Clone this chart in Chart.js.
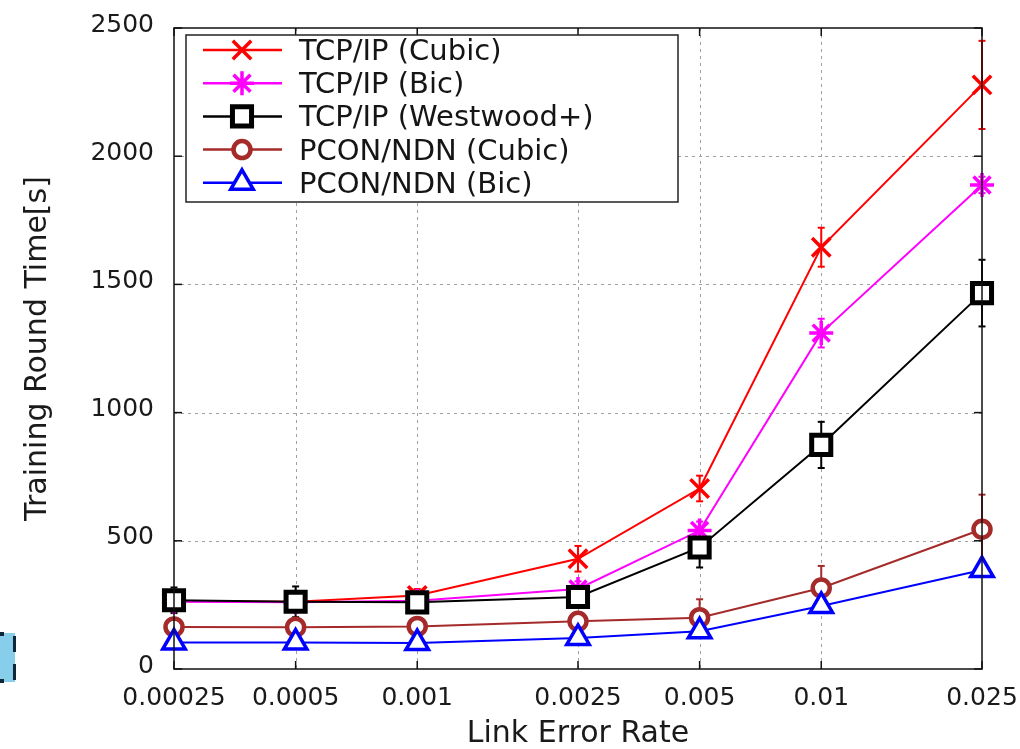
<!DOCTYPE html>
<html><head><meta charset="utf-8">
<script src="https://cdn.jsdelivr.net/npm/chart.js@4.4.1/dist/chart.umd.min.js"></script>
<style>
html,body{margin:0;padding:0;background:#fff;overflow:hidden}
#wrap{position:relative;width:1020px;height:749px}
#c{position:absolute;left:0;top:0}
.art{position:absolute}
</style></head><body>
<div id="wrap"><canvas id="c" width="1020" height="749"></canvas>
<div class="art" style="left:0;top:633px;width:15px;height:49px;background:#87ceeb"></div>
<div class="art" style="left:0;top:632px;width:4px;height:4px;background:#10273a"></div>
<div class="art" style="left:0;top:679px;width:4px;height:4px;background:#10273a"></div>
<div class="art" style="left:13px;top:636px;width:3px;height:16px;background:#10273a"></div>
<div class="art" style="left:13px;top:664px;width:3px;height:16px;background:#10273a"></div>
</div>
<script>
// ---- data ----
const errorRates = [0.00025, 0.0005, 0.001, 0.0025, 0.005, 0.01, 0.025];
const xTickLabels = ['0.00025', '0.0005', '0.001', '0.0025', '0.005', '0.01', '0.025'];
const yTickValues = [0, 500, 1000, 1500, 2000, 2500];
const seriesNames = ['TCP/IP (Cubic)', 'TCP/IP (Bic)', 'TCP/IP (Westwood+)', 'PCON/NDN (Cubic)', 'PCON/NDN (Bic)'];
const tcpCubic     = [265, 262, 287, 430, 704, 1645, 2278];
const tcpBic       = [262, 260, 266, 312, 540, 1310, 1888];
const tcpWestwood  = [268, 262, 260, 281, 474, 874, 1466];
const pconCubic    = [164, 163, 166, 186, 200, 316, 545];
const pconBic      = [103, 103, 101, 121, 147, 246, 386];
const errTcpCubic    = [15, 15, 25, 50, 50, 76, 172];
const errTcpBic      = [15, 15, 15, 30, 35, 56, 32];
const errTcpWestwood = [50, 60, 30, 40, 78, 90, 130];
const errPconCubic   = [20, 20, 20, 22, 72, 86, 135];
const errPconBic     = [10, 10, 10, 12, 20, 16, 16];

const FONT = 'DejaVu Sans';
const mk = (vals) => vals.map((v, i) => ({x: errorRates[i], y: v}));

const styles = [
  {color: '#ff0000', style: 'crossRot', r: 13, bw: 3.5},
  {color: '#ff00ff', style: 'star', r: 12, bw: 3.5},
  {color: '#000000', style: 'rect', r: 13.5, bw: 5},
  {color: '#a52a2a', style: 'circle', r: 8.5, bw: 4.5},
  {color: '#0000ff', style: 'triangle', r: 13, bw: 3.5}
];
const seriesVals = [tcpCubic, tcpBic, tcpWestwood, pconCubic, pconBic];
const seriesErr = [errTcpCubic, errTcpBic, errTcpWestwood, errPconCubic, errPconBic];

const datasets = seriesNames.map((name, i) => ({
  label: name,
  data: mk(seriesVals[i]),
  errors: seriesErr[i],
  borderColor: styles[i].color,
  backgroundColor: styles[i].color,
  borderWidth: 2,
  pointStyle: styles[i].style,
  pointRadius: styles[i].r,
  pointBorderWidth: styles[i].bw,
  pointBorderColor: styles[i].color,
  pointBackgroundColor: '#ffffff',
  tension: 0,
  clip: false,
  order: 5 - i
}));

function seg(ctx, x1, y1, x2, y2) { ctx.beginPath(); ctx.moveTo(x1, y1); ctx.lineTo(x2, y2); ctx.stroke(); }

const decor = {
  id: 'decor',
  beforeDatasetsDraw(chart) {
    const {ctx, chartArea: a, scales: {x, y}} = chart;
    ctx.save();
    ctx.strokeStyle = '#a0a0a0'; ctx.lineWidth = 1; ctx.setLineDash([3, 4]);
    x.ticks.forEach(t => {
      const px = Math.round(x.getPixelForValue(t.value)) + 0.5;
      if (px <= a.left + 2 || px >= a.right - 2) return;
      seg(ctx, px, a.top, px, a.bottom);
    });
    y.ticks.forEach(t => {
      const py = Math.round(y.getPixelForValue(t.value)) + 0.5;
      if (py <= a.top + 2 || py >= a.bottom - 2) return;
      seg(ctx, a.left, py, a.right, py);
    });
    ctx.setLineDash([]);
    chart.data.datasets.forEach(ds => {
      ctx.strokeStyle = ds.borderColor; ctx.lineWidth = 2;
      ds.data.forEach((p, j) => {
        const e = ds.errors[j];
        const px = x.getPixelForValue(p.x);
        const y1 = y.getPixelForValue(p.y + e), y2 = y.getPixelForValue(p.y - e);
        seg(ctx, px, y1, px, y2);
        seg(ctx, px - 3.5, y1, px + 3.5, y1);
        seg(ctx, px - 3.5, y2, px + 3.5, y2);
      });
    });
    ctx.restore();
  },
  afterDatasetsDraw(chart) {
    const {ctx, chartArea: a, scales: {x, y}} = chart;
    ctx.save();
    ctx.strokeStyle = '#111'; ctx.lineWidth = 1.5;
    ctx.strokeRect(a.left, a.top, a.right - a.left, a.bottom - a.top);
    const tl = 8;
    x.ticks.forEach(t => {
      const px = x.getPixelForValue(t.value);
      seg(ctx, px, a.bottom, px, a.bottom - tl);
      seg(ctx, px, a.top, px, a.top + tl);
    });
    y.ticks.forEach(t => {
      const py = y.getPixelForValue(t.value);
      seg(ctx, a.left, py, a.left + tl, py);
      seg(ctx, a.right, py, a.right - tl, py);
    });
    ctx.restore();
  },
  afterDraw(chart) {
    const {ctx} = chart;
    const L = 186, T = 35, R = 678, B = 202;
    ctx.save();
    ctx.fillStyle = '#fff';
    ctx.fillRect(L, T, R - L, B - T);
    ctx.strokeStyle = '#222'; ctx.lineWidth = 1.5;
    ctx.strokeRect(L, T, R - L, B - T);
    chart.data.datasets.forEach((ds, i) => {
      const cy = 50 + 33.2 * i;
      ctx.strokeStyle = ds.borderColor; ctx.lineWidth = 2.5;
      seg(ctx, 203, cy, 282, cy);
      ctx.fillStyle = '#fff';
      ctx.strokeStyle = ds.pointBorderColor;
      ctx.lineWidth = ds.pointBorderWidth;
      Chart.helpers.drawPoint(ctx, {pointStyle: ds.pointStyle, radius: ds.pointRadius, rotation: 0, borderWidth: ds.pointBorderWidth}, 242, cy);
      ctx.fillStyle = '#151515';
      ctx.font = '29px "' + FONT + '"';
      ctx.textBaseline = 'alphabetic'; ctx.textAlign = 'left';
      ctx.fillText(ds.label, 299, cy + 10);
    });
    ctx.restore();
  }
};

new Chart(document.getElementById('c'), {
  type: 'line',
  data: {datasets},
  options: {
    responsive: false,
    animation: false,
    events: [],
    layout: {padding: {top: 28, right: 38, left: 0, bottom: 0}},
    plugins: {legend: {display: false}, tooltip: {enabled: false}},
    scales: {
      x: {
        type: 'logarithmic',
        min: errorRates[0],
        max: errorRates[errorRates.length - 1],
        afterBuildTicks: s => { s.ticks = errorRates.map(v => ({value: v})); },
        afterFit: s => { s.height = 80; s.paddingLeft = 0; s.paddingRight = 0; },
        grid: {display: false, drawTicks: false},
        border: {display: false},
        ticks: {
          autoSkip: false, maxRotation: 0, padding: 14,
          color: '#1a1a1a', font: {family: FONT, size: 25},
          callback: (v) => { const k = errorRates.indexOf(v); return k >= 0 ? xTickLabels[k] : ''; }
        },
        title: {display: true, text: 'Link Error Rate', color: '#1a1a1a',
          font: {family: FONT, size: 30, lineHeight: 1}, padding: {top: 0, bottom: 0}}
      },
      y: {
        type: 'linear',
        min: yTickValues[0],
        max: yTickValues[yTickValues.length - 1],
        afterBuildTicks: s => { s.ticks = yTickValues.map(v => ({value: v})); },
        afterFit: s => { s.width = 174; s.paddingTop = 0; s.paddingBottom = 0; },
        grid: {display: false, drawTicks: false},
        border: {display: false},
        ticks: {padding: 20, labelOffset: -3, color: '#1a1a1a', font: {family: FONT, size: 25},
          callback: (v) => String(v)},
        title: {display: true, text: 'Training Round Time[s]', color: '#1a1a1a',
          font: {family: FONT, size: 30}, padding: {top: 20, bottom: 0}}
      }
    }
  },
  plugins: [decor]
});
</script>
</body></html>
